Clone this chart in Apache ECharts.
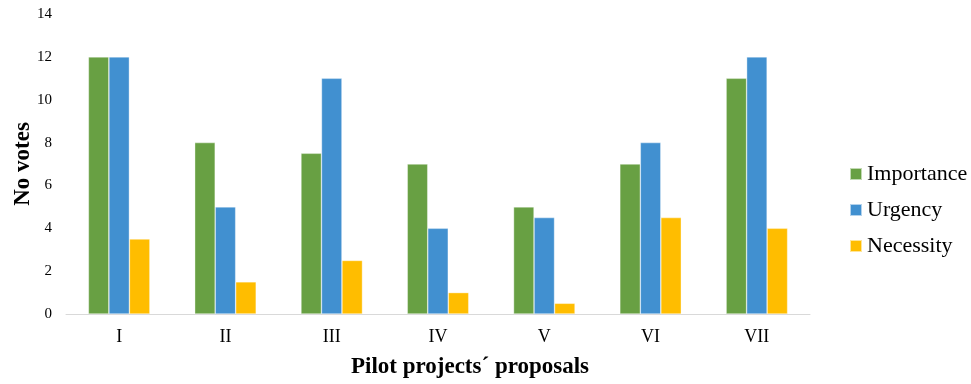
<!DOCTYPE html>
<html>
<head>
<meta charset="utf-8">
<script src="https://cdn.jsdelivr.net/npm/echarts@6/dist/echarts.min.js"></script>
<style>
  html, body { margin: 0; padding: 0; background: #fff; }
  #chart { width: 971px; height: 384px; }
</style>
</head>
<body>
<div id="chart"></div>
<script>
// Pilot project proposals and vote counts per criterion
const categories = ['I', 'II', 'III', 'IV', 'V', 'VI', 'VII'];
const importance = [12, 8, 7.5, 7, 5, 7, 11];
const urgency = [12, 5, 11, 4, 4.5, 8, 12];
const necessity = [3.5, 1.5, 2.5, 1, 0.5, 4.5, 4];

const serif = '"Liberation Serif", "Times New Roman", serif';

const chart = echarts.init(document.getElementById('chart'));

function barSeries(name, data, color) {
  return {
    name: name,
    type: 'bar',
    data: data,
    barWidth: 20.5,
    barGap: '0%',
    itemStyle: { color: color, borderColor: 'rgba(255,255,255,0.6)', borderWidth: 0.6 },
    emphasis: { disabled: true }
  };
}

chart.setOption({
  animation: false,
  textStyle: { fontFamily: serif },
  grid: { left: 66, right: 161, top: 14, bottom: 70, outerBoundsMode: 'none', containLabel: false },
  legend: {
    orient: 'vertical',
    left: 849,
    top: 163,
    padding: 0,
    itemWidth: 12,
    itemHeight: 12,
    itemGap: 14,
    icon: 'rect',
    textStyle: { fontFamily: serif, fontSize: 22, color: '#000' },
    data: ['Importance', 'Urgency', 'Necessity']
  },
  xAxis: {
    type: 'category',
    data: categories,
    name: 'Pilot projects´ proposals',
    nameLocation: 'middle',
    nameGap: 42,
    nameTextStyle: { fontFamily: serif, fontSize: 23, fontWeight: 'bold', color: '#000', padding: [0, 0, 0, 64] },
    axisLine: { lineStyle: { color: '#d9d9d9', width: 1 } },
    axisTick: { show: false },
    axisLabel: { fontFamily: serif, fontSize: 18, color: '#000', margin: 14 }
  },
  yAxis: {
    type: 'value',
    min: 0,
    max: 14,
    interval: 2,
    name: 'No votes',
    nameLocation: 'middle',
    nameGap: 31,
    nameMoveOverlap: false,
    nameTextStyle: { fontFamily: serif, fontSize: 23, fontWeight: 'bold', color: '#000' },
    axisLine: { show: false },
    axisTick: { show: false },
    splitLine: { show: false },
    axisLabel: { fontFamily: serif, fontSize: 15, color: '#000', margin: 14 }
  },
  series: [
    barSeries('Importance', importance, '#68a043'),
    barSeries('Urgency', urgency, '#4190d0'),
    barSeries('Necessity', necessity, '#ffbd00')
  ]
});
</script>
</body>
</html>
